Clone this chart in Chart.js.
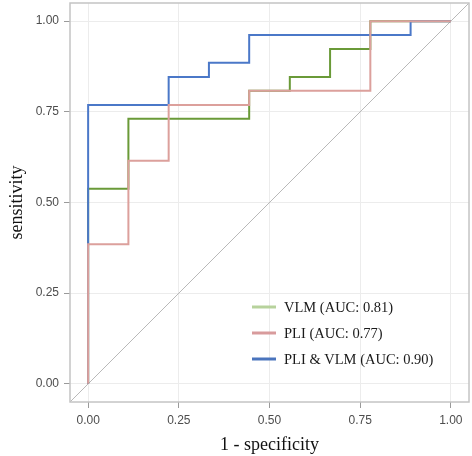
<!DOCTYPE html>
<html>
<head>
<meta charset="utf-8">
<script src="https://cdn.jsdelivr.net/npm/chart.js@4/dist/chart.umd.min.js"></script>
<style>
  html, body { margin: 0; padding: 0; background: #fff; }
  #wrap { width: 472px; height: 456px; }
</style>
</head>
<body>
<div id="wrap"><canvas id="roc"></canvas></div>
<script>
// ROC 曲线数据 (1 - specificity, sensitivity)
const tickValues = [0, 0.25, 0.5, 0.75, 1];

const vlmFpr = [0, 0, 0.111, 0.444, 0.556, 0.667, 0.778, 1];
const vlmTpr = [0, 0.538, 0.731, 0.808, 0.846, 0.923, 1, 1];

const pliFpr = [0, 0, 0.111, 0.222, 0.444, 0.778, 1];
const pliTpr = [0, 0.385, 0.615, 0.769, 0.808, 1, 1];

const bothFpr = [0, 0, 0.222, 0.333, 0.444, 0.889, 1];
const bothTpr = [0, 0.769, 0.846, 0.885, 0.962, 1, 1];

const diagX = [-0.05, 1.05];
const diagY = [-0.05, 1.05];

const legendLabels = ['VLM (AUC: 0.81)', 'PLI (AUC: 0.77)', 'PLI & VLM (AUC: 0.90)'];
const legendColors = ['#b7d29c', '#d89b9c', '#4a74bd'];

const pts = (xs, ys) => xs.map((x, i) => ({ x, y: ys[i] }));

// 面板边框 + 图例
const panelPlugin = {
  id: 'panel',
  afterDatasetsDraw(chart) {
    const { ctx, chartArea: a } = chart;
    ctx.save();
    ctx.strokeStyle = '#c4c4c4';
    ctx.lineWidth = 1.5;
    ctx.strokeRect(a.left, a.top, a.right - a.left, a.bottom - a.top);

    const x0 = a.left + 182, rows = [307, 333, 359];
    ctx.font = '14.5px "Liberation Serif", "Times New Roman", serif';
    ctx.textBaseline = 'middle';
    ctx.fillStyle = '#1a1a1a';
    legendLabels.forEach((t, i) => {
      ctx.strokeStyle = legendColors[i];
      ctx.lineWidth = 3;
      ctx.beginPath();
      ctx.moveTo(x0, rows[i]);
      ctx.lineTo(x0 + 24, rows[i]);
      ctx.stroke();
      ctx.fillText(t, x0 + 32, rows[i] + 1);
    });
    ctx.restore();
  }
};

const line = (data, color, order) => ({
  data, borderColor: color, borderWidth: 2, pointRadius: 0,
  showLine: true, stepped: 'before', fill: false, order
});

const setTicks = s => { s.ticks = tickValues.map(v => ({ value: v })); };
const gridOpts = { color: '#ececec', lineWidth: 1, tickLength: 6, tickColor: '#9a9a9a' };
const tickFont = { family: '"Liberation Sans", Arial, sans-serif', size: 12 };
const titleFont = { family: '"Liberation Serif", "Times New Roman", serif', size: 18 };

new Chart(document.getElementById('roc'), {
  type: 'scatter',
  data: {
    datasets: [
      line(pts(pliFpr, pliTpr), '#dca09c', 0),
      line(pts(bothFpr, bothTpr), '#4b78c8', 1),
      line(pts(vlmFpr, vlmTpr), '#6a9a38', 2),
      { data: pts(diagX, diagY), borderColor: '#b9b9b9', borderWidth: 1, pointRadius: 0, showLine: true, order: 3 }
    ]
  },
  options: {
    responsive: true,
    maintainAspectRatio: false,
    animation: false,
    layout: { padding: { top: 3, right: 3, left: 0, bottom: 0 } },
    plugins: { legend: { display: false }, tooltip: { enabled: false } },
    scales: {
      x: {
        type: 'linear', min: -0.05, max: 1.05,
        afterBuildTicks: setTicks,
        afterFit: s => { s.height = 54; s.paddingLeft = 0; s.paddingRight = 0; },
        grid: gridOpts,
        border: { display: false },
        ticks: { color: '#4d4d4d', font: tickFont, padding: 5, callback: v => v.toFixed(2) },
        title: { display: true, text: '1 - specificity', color: '#111', font: titleFont, padding: { top: 2, bottom: 0 } }
      },
      y: {
        type: 'linear', min: -0.05, max: 1.05,
        afterBuildTicks: setTicks,
        afterFit: s => { s.width = 70; s.paddingTop = 0; s.paddingBottom = 0; },
        grid: gridOpts,
        border: { display: false },
        ticks: { color: '#4d4d4d', font: tickFont, padding: 5, callback: v => v.toFixed(2) },
        title: { display: true, text: 'sensitivity', color: '#111', font: titleFont, padding: { top: 6, bottom: 0 } }
      }
    }
  },
  plugins: [panelPlugin]
});
</script>
</body>
</html>
